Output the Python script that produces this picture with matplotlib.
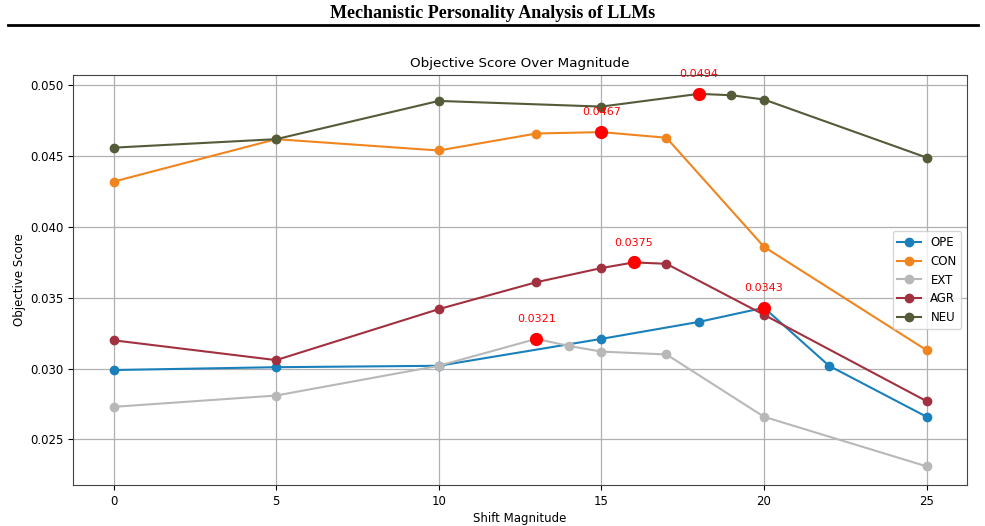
import matplotlib
matplotlib.use("Agg")
from matplotlib import pyplot as plt
from matplotlib.lines import Line2D

# data
ope_x = [0, 5, 10, 15, 18, 20, 22, 25]
ope_y = [0.0299, 0.0301, 0.0302, 0.0321, 0.0333, 0.0343, 0.0302, 0.0266]
con_x = [0, 5, 10, 13, 15, 17, 20, 25]
con_y = [0.0432, 0.0462, 0.0454, 0.0466, 0.0467, 0.0463, 0.0386, 0.0313]
ext_x = [0, 5, 10, 13, 14, 15, 17, 20, 25]
ext_y = [0.0273, 0.0281, 0.0302, 0.0321, 0.0316, 0.0312, 0.0310, 0.0266, 0.0231]
agr_x = [0, 5, 10, 13, 15, 16, 17, 20, 25]
agr_y = [0.0320, 0.0306, 0.0342, 0.0361, 0.0371, 0.0375, 0.0374, 0.0338, 0.0277]
neu_x = [0, 5, 10, 15, 18, 19, 20, 25]
neu_y = [0.0456, 0.0462, 0.0489, 0.0485, 0.0494, 0.0493, 0.0490, 0.0449]

names = ["OPE", "CON", "EXT", "AGR", "NEU"]
colors = ["#1a80bb", "#f0851f", "#b8b8b8", "#a2313f", "#545b38"]
series = [(ope_x, ope_y), (con_x, con_y), (ext_x, ext_y), (agr_x, agr_y), (neu_x, neu_y)]

fig = plt.figure(figsize=(9.85, 5.26), dpi=100)
ax = fig.add_axes([0.074, 0.078, 0.908, 0.779])

for name, c, (xs, ys) in zip(names, colors, series):
    ax.plot(xs, ys, marker="o", color=c, label=name, markersize=6, linewidth=1.5)

# highlight max of each series
for name, c, (xs, ys) in zip(names, colors, series):
    i = ys.index(max(ys))
    ax.plot(xs[i], ys[i], "o", color="red", markersize=8.5, zorder=5)
    ax.annotate(f"{ys[i]:.4f}", (xs[i], ys[i]), xytext=(0, 12), textcoords="offset points",
                ha="center", color="red", fontsize=8)

ax.set_xticks([0, 5, 10, 15, 20, 25])
ax.tick_params(labelsize=8.5)
ax.grid(True, color="#b0b0b0", linewidth=0.9)
ax.set_title("Objective Score Over Magnitude", fontsize=9.7)
ax.set_xlabel("Shift Magnitude", fontsize=8.5, labelpad=3)
ax.set_ylabel("Objective Score", fontsize=8.5, labelpad=3)
for s in ax.spines.values():
    s.set_color("#444444")
ax.legend(loc="center right", fontsize=8.5)

fig.text(0.5, 0.99, "Mechanistic Personality Analysis of LLMs", ha="center", va="top",
         fontsize=13, fontweight="bold", family="Liberation Serif")
fig.add_artist(Line2D([0.008, 0.993], [0.952, 0.952], color="black", linewidth=2,
                      transform=fig.transFigure))

fig.savefig("out.png", dpi=100)
